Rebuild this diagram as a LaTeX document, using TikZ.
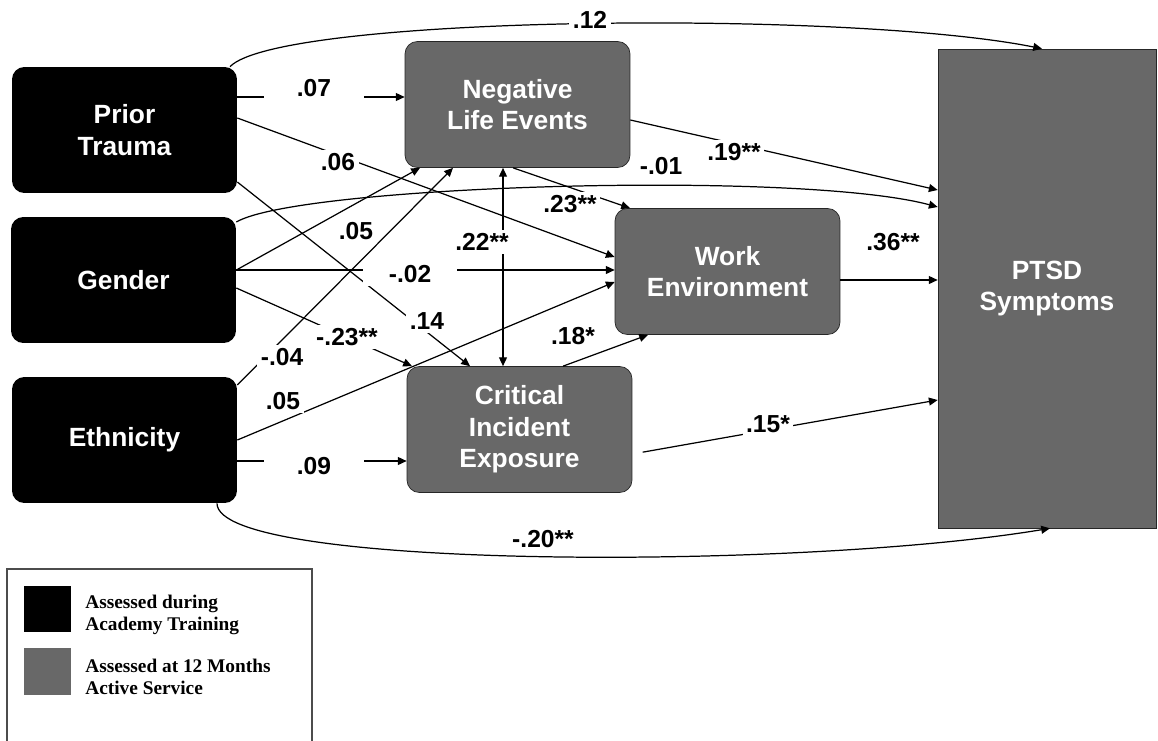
\documentclass[tikz,border=0pt]{standalone}
\usepackage{fontspec}
\setmainfont{Liberation Serif}
\setsansfont{Liberation Sans}
\usetikzlibrary{arrows.meta}
\definecolor{boxgray}{RGB}{104,104,104}

\tikzset{
  indep/.style={rectangle, rounded corners=7pt, fill=black, text=white,
    minimum width=4.5cm, minimum height=2.52cm, align=center,
    font=\sffamily\bfseries\fontsize{15}{18}\selectfont},
  med/.style={indep, fill=boxgray, draw=black!85, thin},
  outc/.style={med, rounded corners=0pt, minimum width=4.36cm, minimum height=9.58cm},
  coef/.style={fill=white, inner sep=2pt, font=\sffamily\bfseries\fontsize{14}{16}\selectfont},
  path/.style={line width=0.7pt, -{Triangle[length=5pt,width=4.5pt]}},
  biarrow/.style={path, {Triangle[length=5pt,width=4.5pt]}-{Triangle[length=5pt,width=4.5pt]}},
  keybox/.style={rectangle, minimum size=0.93cm, inner sep=0pt},
  keytext/.style={anchor=west, align=left, inner sep=0pt,
    font=\rmfamily\bfseries\fontsize{11}{12.5}\selectfont}
}

\begin{document}
\begin{tikzpicture}[x=0.02cm, y=-0.02cm]
  \useasboundingbox (0,0) rectangle (1158,740);

  \node[indep] (PT)   at (124.5,130)   {Prior\\Trauma};
  \node[indep] (GEN)  at (123.5,280)   {Gender};
  \node[indep] (ETH)  at (124.5,440)   {Ethnicity};
  \node[med]   (NLE)  at (517.5,104.5) {Negative\\Life Events};
  \node[med]   (WE)   at (727.5,271.5) {Work\\Environment};
  \node[med]   (CIE)  at (519.5,429.5) {Critical\\Incident\\Exposure};
  \node[outc]  (PTSD) at (1047,288.5)  {PTSD\\Symptoms};

  % Connect the nodes
  \draw[path] (PT.east |- 0,97)  -- (NLE.west |- 0,97);
  \draw[path] (PT.east |- 0,118) -- (WE.west |- 0,257);
  \draw[path] (PT.east |- 0,182) -- (CIE.north -| 470,0);
  \draw[path] (PT.north -| 230,0) .. controls (280,15) and (850,10) .. (PTSD.north -| 1042,0);
  \draw[path] (GEN.east |- 0,270) -- (NLE.south -| 420,0);
  \draw[path] (GEN.east |- 0,270) -- (WE.west |- 0,270);
  \draw[path] (GEN.east |- 0,288) -- (CIE.north -| 412,0);
  \draw[path] (GEN.east |- 0,222) .. controls (300,185) and (800,170) .. (PTSD.west |- 0,207);
  \draw[path] (ETH.east |- 0,385) -- (NLE.south -| 453,0);
  \draw[path] (ETH.east |- 0,440) -- (WE.west |- 0,282);
  \draw[path] (ETH.east |- 0,461) -- (CIE.west |- 0,461);
  \draw[path] (ETH.south -| 217,0) .. controls (217,570) and (800,570) .. (PTSD.south -| 1050,0);
  \draw[path] (NLE.south -| 513,0) -- (WE.north -| 630,0);
  \draw[biarrow] (NLE.south -| 503,0) -- (CIE.north -| 503,0);
  \draw[path] (NLE.east |- 0,120) -- (PTSD.west |- 0,190);
  \draw[path] (CIE.north -| 563,0) -- (WE.south -| 648,0);
  \draw[path] (WE.east |- 0,280) -- (PTSD.west |- 0,280);
  \draw[path, shorten <=6pt] (CIE.east |- 0,454) -- (PTSD.west |- 0,400);

  % path coefficients
  \node[coef] (c12)  at (590,20)  {.12};
  \node[coef, minimum width=2cm] (c07) at (314,88) {.07};
  \node[coef] (c06)  at (338,162) {.06};
  \node[coef] (c05a) at (356,231) {.05};
  \node[coef, minimum width=1.9cm] (c02) at (410,274) {-.02};
  \node[coef] (c14)  at (427,321) {.14};
  \node[coef] (c23n) at (347,337) {-.23**};
  \node[coef] (c04)  at (282,357) {-.04};
  \node[coef] (c05b) at (283,401) {.05};
  \node[coef, minimum width=2cm] (c09) at (314,466) {.09};
  \node[coef] (c20)  at (543,539) {-.20**};
  \node[coef] (c22)  at (482,242) {.22**};
  \node[coef] (c23)  at (570,204) {.23**};
  \node[coef] (c01)  at (661,166) {-.01};
  \node[coef] (c19)  at (734,152) {.19**};
  \node[coef] (c36)  at (893,242) {.36**};
  \node[coef] (c18)  at (573,336) {.18*};
  \node[coef] (c15)  at (768,424) {.15*};

  % legend
  \draw[black!70, line width=0.6pt] (7,741) |- (312,569) -- (312,741);
  \node[keybox, fill=black]   (keyA) at (47.5,609) {};
  \node[keybox, fill=boxgray] (keyB) at (47.5,671.5) {};
  \node[keytext] (keyAtext) at (85,615) {Assessed during\\Academy Training};
  \node[keytext] (keyBtext) at (85,677) {Assessed at 12 Months\\Active Service};
\end{tikzpicture}
\end{document}
